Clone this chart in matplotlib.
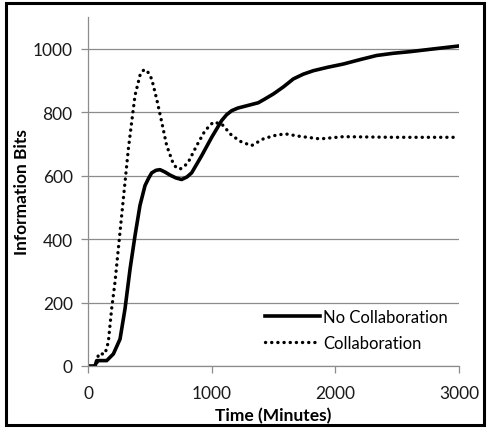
import matplotlib
matplotlib.use('Agg')
from matplotlib import pyplot as plt
from matplotlib.patches import Rectangle

plt.rcParams['font.family'] = ['Lato', 'DejaVu Sans']

# values
no_collab_t = [0, 57, 70, 151, 205, 259, 299, 340, 380, 420, 461, 490, 515, 550, 582, 620,
               663, 710, 757, 800, 838, 919, 1000, 1081, 1120, 1162, 1210, 1269, 1377, 1431,
               1500, 1580, 1660, 1740, 1822, 1940, 2064, 2200, 2334, 2470, 2603, 2800, 3000]
no_collab_v = [0, 0, 17, 17, 38, 85, 180, 306, 411, 506, 569, 592, 609, 617, 619, 612,
               602, 593, 588, 596, 609, 663, 721, 774, 792, 805, 813, 819, 830, 842,
               858, 880, 905, 920, 931, 942, 952, 966, 979, 986, 991, 1000, 1009]

collab_t = [0, 70, 84, 137, 164, 191, 218, 245, 272, 299, 326, 353, 380, 420, 440, 461, 485, 515,
            555, 596, 636, 690, 715, 744, 775, 811, 879, 946, 1013, 1081, 1162, 1242, 1323, 1417,
            1500, 1593, 1714, 1876, 2064, 2469, 3000]
collab_v = [0, 0, 38, 38, 75, 180, 264, 369, 474, 579, 684, 769, 853, 916, 930, 935, 926, 905,
            842, 769, 695, 637, 625, 621, 628, 643, 695, 742, 769, 763, 727, 706, 695, 716,
            726, 732, 724, 716, 723, 721, 721]

x_ticks = [0, 1000, 2000, 3000]
y_ticks = [0, 200, 400, 600, 800, 1000]

fig = plt.figure(figsize=(4.89, 4.31), dpi=100)
ax = fig.add_axes([0.18, 0.1485, 0.7587, 0.8095])

ax.plot(no_collab_t, no_collab_v, color='black', lw=2.6, label='No Collaboration',
        solid_joinstyle='round')
ax.plot(collab_t, collab_v, color='black', lw=2.4, linestyle=(0, (0.05, 1.8)),
        dash_capstyle='round', label='Collaboration')

ax.set_xlim(0, 3000)
ax.set_ylim(0, 1100)
ax.set_xticks(x_ticks)
ax.set_yticks(y_ticks)
ax.grid(axis='y', color='#8c8c8c', lw=0.9)
ax.set_axisbelow(True)

for s in ['top', 'right']:
    ax.spines[s].set_visible(False)
for s in ['left', 'bottom']:
    ax.spines[s].set_color('#8c8c8c')
    ax.spines[s].set_linewidth(0.9)
ax.tick_params(axis='both', direction='out', length=5, color='#8c8c8c', width=0.9,
               labelsize=12.5, labelcolor='#1a1a1a')
ax.tick_params(axis='x', pad=9)
ax.tick_params(axis='y', pad=6)

ax.set_xlabel('Time (Minutes)', fontsize=12.5, fontweight='bold', labelpad=4)
ax.set_ylabel('Information Bits', fontsize=12.5, fontweight='bold', labelpad=2)

ax.legend(loc='lower right', frameon=False, fontsize=12, handlelength=3.3,
          handletextpad=0.2, labelspacing=0.6, bbox_to_anchor=(1.01, 0.0))

fig.add_artist(Rectangle((0.013, 0.012), 0.976, 0.978, transform=fig.transFigure,
                         fill=False, edgecolor='black', lw=2.2))

fig.savefig('out.png', dpi=100)
